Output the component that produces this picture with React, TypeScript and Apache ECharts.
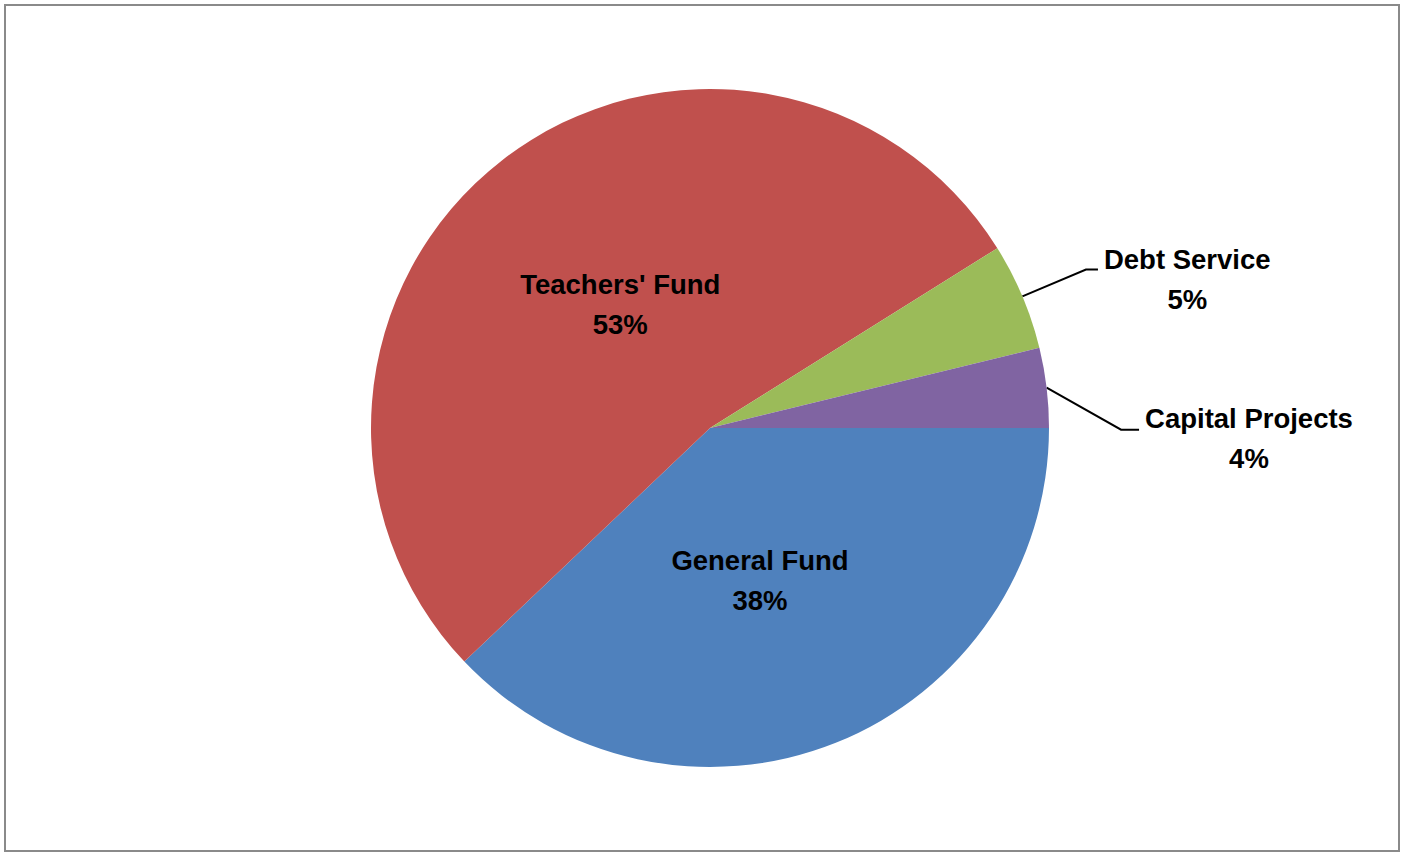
import React, { useEffect, useRef } from "react";
import * as echarts from "echarts";

const categories = ["General Fund", "Teachers' Fund", "Debt Service", "Capital Projects"];
const values = [37.9, 53.2, 5.1, 3.8];
const colors = ["#4F81BD", "#C0504D", "#9BBB59", "#8064A2"];

// label adjustments (layout only)
const labelShift: Record<number, { dx: number; dy: number; lineDy?: number }> = {
  0: { dx: -14, dy: -8 },
  1: { dx: 16, dy: 13 },
  2: { dx: 0, dy: 10 },
  3: { dx: 0, dy: 60, lineDy: 51 },
};
const lineLengths = [
  null,
  null,
  { length: 69, length2: 12 },
  { length: 75, length2: 18 },
];

export default function App() {
  const ref = useRef<HTMLDivElement>(null);
  useEffect(() => {
    if (!ref.current) return;
    const chart = echarts.init(ref.current, undefined, { renderer: "svg" });
    const font = '"Liberation Sans", Arial, sans-serif';
    const data = categories.map((name, i) => {
      const item: any = { name, value: values[i], itemStyle: { color: colors[i] } };
      if (lineLengths[i]) {
        item.label = { position: "outside", distanceToLabelLine: 6 };
        item.labelLine = {
          show: true,
          length: lineLengths[i]!.length,
          length2: lineLengths[i]!.length2,
          lineStyle: { color: "#000", width: 2 },
        };
      } else {
        item.label = { position: "inside" };
        item.labelLine = { show: false };
      }
      return item;
    });
    chart.setOption({
      animation: false,
      backgroundColor: "#fff",
      graphic: [
        {
          type: "rect",
          shape: { x: 5, y: 5, width: 1394, height: 846 },
          style: { fill: "none", stroke: "#8a8a8a", lineWidth: 2 },
          silent: true,
        },
      ],
      series: [
        {
          type: "pie",
          center: [710, 428],
          radius: [0, 339],
          startAngle: 0,
          clockwise: true,
          avoidLabelOverlap: false,
          percentPrecision: 0,
          itemStyle: { borderWidth: 0 },
          emphasis: { disabled: true },
          label: {
            formatter: "{n|{b}}\n{n|{d}%}",
            rich: {
              n: {
                fontFamily: font,
                fontWeight: "bold",
                fontSize: 27.5,
                lineHeight: 40,
                color: "#000",
                align: "center",
              },
            },
          },
          labelLayout: (params: any) => {
            const s = labelShift[params.dataIndex];
            const out: any = { dx: s.dx, dy: s.dy };
            if (params.labelLinePoints) {
              const ld = s.lineDy || 0;
              out.labelLinePoints = params.labelLinePoints.map((p: number[], k: number) =>
                k === 0 ? [p[0], p[1]] : [p[0], p[1] + ld]
              );
            }
            return out;
          },
          data,
        },
      ],
    });
    return () => chart.dispose();
  }, []);
  return (
    <div
      ref={ref}
      style={{ position: "absolute", left: 0, top: 0, width: 1401, height: 853 }}
    />
  );
}
